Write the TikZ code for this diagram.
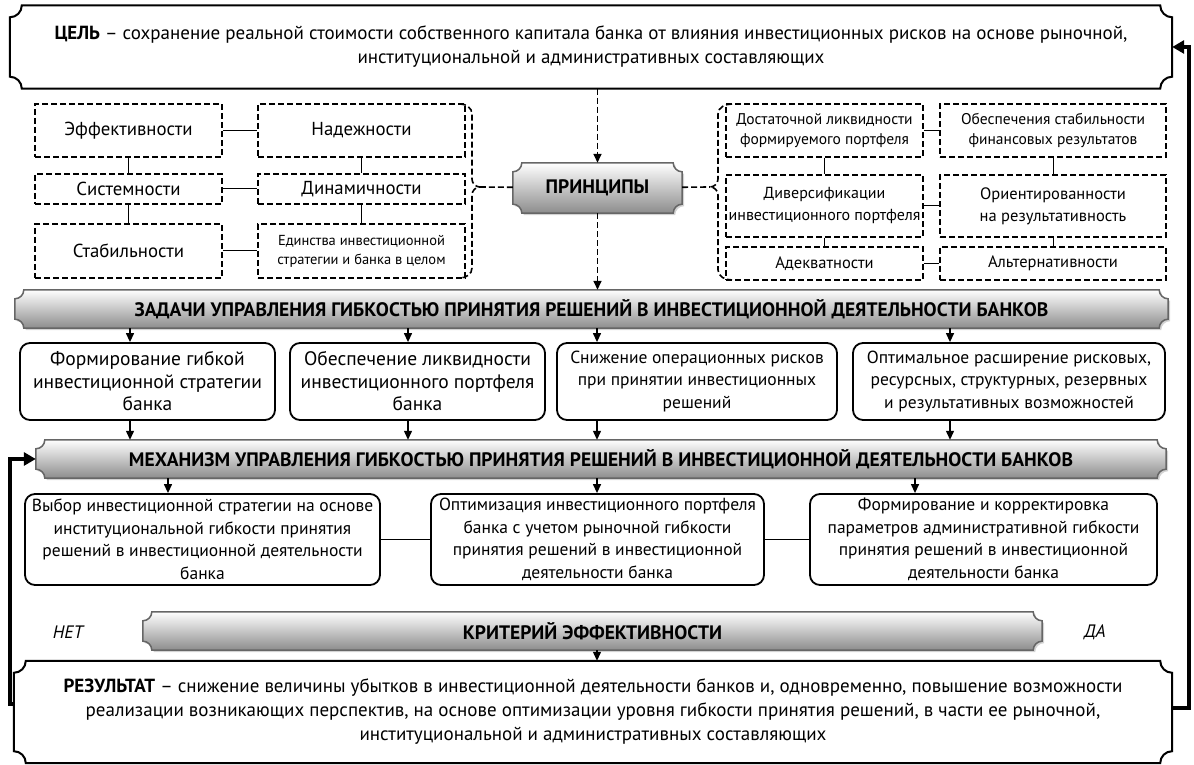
\documentclass[tikz,border=0pt]{standalone}
\usepackage{fontspec}
\setmainfont{PT Sans}
\usepackage{tikz}
\usetikzlibrary{backgrounds}
\usetikzlibrary{calc, positioning, shadows, arrows.meta}

\newcommand{\notchframe}[3][]{%
  \path[#1] ($(#2.north west)+(#3,0)$) -- ($(#2.north east)-(#3,0)$)
    arc[start angle=180, end angle=270, radius=#3] -- ($(#2.south east)+(0,#3)$)
    arc[start angle=90, end angle=180, radius=#3] -- ($(#2.south west)+(#3,0)$)
    arc[start angle=0, end angle=90, radius=#3] -- ($(#2.north west)-(0,#3)$)
    arc[start angle=270, end angle=360, radius=#3] -- cycle;}

\begin{document}
\begin{tikzpicture}[x=1pt, y=1pt, >={Triangle[length=9pt, width=8pt]},
    dashednode/.style={rectangle, draw=black, line width=1.5pt, dash pattern=on 6pt off 3pt, align=center, inner sep=0pt, font=\fontsize{18.8}{22}\selectfont},
    narrowdashednode/.style={dashednode, font=\fontsize{16.5}{22}\selectfont},
    smalldashednode/.style={dashednode, font=\fontsize{15.5}{20}\selectfont},
    roundednode/.style={rectangle, rounded corners=10pt, draw=black, line width=1.8pt, align=center, inner sep=0pt, font=\fontsize{17.5}{22.5}\selectfont},
    largeroundednode/.style={roundednode, font=\fontsize{19.5}{22.5}\selectfont},
    textnode/.style={align=center, inner sep=0pt, font=\fontsize{19}{24}\selectfont},
    barnode/.style={align=center, inner sep=0pt, font=\bfseries\fontsize{19.5}{22}\selectfont},
    answernode/.style={inner sep=0pt, font=\itshape\fontsize{18}{20}\selectfont},
    barframe/.style={draw=black!60, line width=1.5pt, top color=white, bottom color=black!45, drop shadow={shadow xshift=2pt, shadow yshift=-2pt, opacity=0.35}},
    boxframe/.style={draw=black, line width=2pt, fill=white},
    link/.style={line width=1pt},
    arrowlink/.style={line width=1.3pt, ->},
    dashedlink/.style={line width=1.6pt, dash pattern=on 6pt off 3pt},
    feedback/.style={line width=4.5pt, -{Triangle[length=12pt, width=13pt]}},
    ]
    \useasboundingbox (0,0) rectangle (1194,765);

    %Nodes
    \node[textnode, minimum width=1162, minimum height=83] (goal) at (591,718)
      {\textbf{ЦЕЛЬ} – сохранение реальной стоимости собственного капитала банка от влияния инвестиционных рисков на основе рыночной,\\
       институциональной и административных составляющих};
    \node[barnode, minimum width=169, minimum height=50] (principles) at (597.5,577) {ПРИНЦИПЫ};

    \node[dashednode, minimum width=187, minimum height=53] (efficiency)  at (128.5,634.5) {Эффективности};
    \node[dashednode, minimum width=207, minimum height=53] (reliability) at (361.5,634.5) {Надежности};
    \node[dashednode, minimum width=187, minimum height=30] (system)      at (128.5,576) {Системности};
    \node[dashednode, minimum width=207, minimum height=30] (dynamics)    at (361.5,576) {Динамичности};
    \node[dashednode, minimum width=187, minimum height=54] (stability)   at (128.5,514) {Стабильности};
    \node[dashednode, font=\fontsize{14.5}{19}\selectfont, minimum width=207, minimum height=54] (unity) at (361.5,514) {Единства инвестиционной\\стратегии и банка в целом};

    \node[smalldashednode, minimum width=197, minimum height=53] (liquidity) at (824.5,634.5) {Достаточной ликвидности\\формируемого портфеля};
    \node[smalldashednode, minimum width=226, minimum height=53] (results)   at (1053,634.5) {Обеспечения стабильности\\финансовых результатов};
    \node[narrowdashednode, font=\fontsize{16}{22}\selectfont, minimum width=197, minimum height=62] (diversity) at (824.5,559) {Диверсификации\\инвестиционного портфеля};
    \node[narrowdashednode, minimum width=226, minimum height=62] (orientation) at (1053,559) {Ориентированности\\на результативность};
    \node[narrowdashednode, minimum width=197, minimum height=33] (adequacy)    at (824.5,501.5) {Адекватности};
    \node[narrowdashednode, minimum width=226, minimum height=33] (alternative) at (1053,501.5) {Альтернативности};

    \node[barnode, minimum width=1153, minimum height=38] (tasks) at (591.5,456)
      {ЗАДАЧИ УПРАВЛЕНИЯ ГИБКОСТЬЮ ПРИНЯТИЯ РЕШЕНИЙ В ИНВЕСТИЦИОННОЙ ДЕЯТЕЛЬНОСТИ БАНКОВ};
    \node[largeroundednode, minimum width=255, minimum height=77] (task1) at (147.5,383.5) {Формирование гибкой\\инвестиционной стратегии\\банка};
    \node[largeroundednode, minimum width=255, minimum height=77] (task2) at (417.5,383.5) {Обеспечение ликвидности\\инвестиционного портфеля\\банка};
    \node[roundednode, minimum width=280, minimum height=77] (task3) at (697,383.5) {Снижение операционных рисков\\при принятии инвестиционных\\решений};
    \node[roundednode, minimum width=312, minimum height=77] (task4) at (1009,383.5) {Оптимальное расширение рисковых,\\ресурсных, структурных, резервных\\и результативных возможностей};

    \node[barnode, minimum width=1130, minimum height=38] (mechanism) at (601,306)
      {МЕХАНИЗМ УПРАВЛЕНИЯ ГИБКОСТЬЮ ПРИНЯТИЯ РЕШЕНИЙ В ИНВЕСТИЦИОННОЙ ДЕЯТЕЛЬНОСТИ БАНКОВ};
    \node[roundednode, minimum width=355, minimum height=91] (choice)   at (202.5,225.5) {Выбор инвестиционной стратегии на основе\\институциональной гибкости принятия\\решений в инвестиционной деятельности\\банка};
    \node[roundednode, minimum width=333, minimum height=91] (optimum)  at (597.5,225.5) {Оптимизация инвестиционного портфеля\\банка с учетом рыночной гибкости\\принятия решений в инвестиционной\\деятельности банка};
    \node[roundednode, minimum width=347, minimum height=91] (tuning)   at (983.5,225.5) {Формирование и корректировка\\параметров административной гибкости\\принятия решений в инвестиционной\\деятельности банка};

    \node[barnode, minimum width=899, minimum height=38] (criterion) at (592.5,134) {КРИТЕРИЙ ЭФФЕКТИВНОСТИ};
    \node[answernode] (no)  at (68,133) {НЕТ};
    \node[answernode] (yes) at (1095,133) {ДА};

    \node[textnode, minimum width=1158, minimum height=102] (result) at (593,53)
      {\textbf{РЕЗУЛЬТАТ} – снижение величины убытков в инвестиционной деятельности банков и, одновременно, повышение возможности\\
       реализации возникающих перспектив, на основе оптимизации уровня гибкости принятия решений, в части ее рыночной,\\
       институциональной и административных составляющих};

    %Frames
    \begin{scope}[on background layer]
      \notchframe[boxframe]{goal}{12}
      \notchframe[boxframe]{result}{12}
      \notchframe[barframe]{principles}{9}
      \notchframe[barframe]{tasks}{9}
      \notchframe[barframe]{mechanism}{9}
      \notchframe[barframe]{criterion}{9}
    \end{scope}

    %Columns
    \coordinate (col1) at (130,0);
    \coordinate (col2) at (408,0);
    \coordinate (col3) at (597,0);
    \coordinate (col4) at (950,0);
    \coordinate (mcol1) at (168,0);
    \coordinate (mcol3) at (915,0);
    \coordinate (lefttip) at (480,578);
    \coordinate (righttip) at (710,578);
    \coordinate (leftturn) at (10,0);
    \coordinate (rightturn) at (1189,0);

    %Lines
    \draw[link] (efficiency) -- (reliability);
    \draw[link] (system) -- (dynamics);
    \draw[link] (stability) -- (unity);
    \draw[link] (efficiency) -- (system);
    \draw[link] (system) -- (stability);
    \draw[link] (reliability) -- (dynamics);
    \draw[link] (dynamics) -- (unity);

    \draw[link] (liquidity) -- (results);
    \draw[link] (diversity) -- (orientation);
    \draw[link] (adequacy) -- (alternative);
    \draw[link] (liquidity) -- (diversity);
    \draw[link] (diversity) -- (adequacy);
    \draw[link] (results) -- (orientation);
    \draw[link] (orientation) -- (alternative);

    \draw[dashedlink] (460,661) to[out=0,in=90] (472,651) -- (472,586)
      to[out=-90,in=180] (lefttip) to[out=180,in=90] (472,570) -- (472,497) to[out=-90,in=0] (460,487);
    \draw[dashedlink] (732,661) to[out=180,in=90] (718,651) -- (718,586)
      to[out=-90,in=0] (righttip) to[out=0,in=90] (718,570) -- (718,495) to[out=-90,in=180] (732,485);
    \draw[dashedlink] (principles) -- (lefttip);
    \draw[dashedlink] (principles) -- (righttip);
    \draw[dashedlink, ->] (principles.north |- goal.south) -- (principles.north);
    \draw[dashedlink, ->] (principles.south) -- (principles.south |- tasks.north);

    \draw[arrowlink] (col1 |- tasks.south) -- (col1 |- task1.north);
    \draw[arrowlink] (col2 |- tasks.south) -- (col2 |- task2.north);
    \draw[arrowlink] (col3 |- tasks.south) -- (col3 |- task3.north);
    \draw[arrowlink] (col4 |- tasks.south) -- (col4 |- task4.north);
    \draw[arrowlink] (col1 |- task1.south) -- (col1 |- mechanism.north);
    \draw[arrowlink] (col2 |- task2.south) -- (col2 |- mechanism.north);
    \draw[arrowlink] (col3 |- task3.south) -- (col3 |- mechanism.north);
    \draw[arrowlink] (col4 |- task4.south) -- (col4 |- mechanism.north);

    \draw[arrowlink] (mcol1 |- mechanism.south) -- (mcol1 |- choice.north);
    \draw[arrowlink] (col3 |- mechanism.south) -- (col3 |- optimum.north);
    \draw[arrowlink] (mcol3 |- mechanism.south) -- (mcol3 |- tuning.north);
    \draw[link] (choice) -- (optimum);
    \draw[link] (optimum) -- (tuning);
    \draw[arrowlink] (col3 |- criterion.south) -- (col3 |- result.north);

    \draw[feedback] ([yshift=8pt]result.west) -| (leftturn |- mechanism.west) -- (mechanism.west);
    \draw[feedback] ([yshift=4pt]result.east) -| (rightturn |- goal.east) -- (goal.east);
\end{tikzpicture}
\end{document}
